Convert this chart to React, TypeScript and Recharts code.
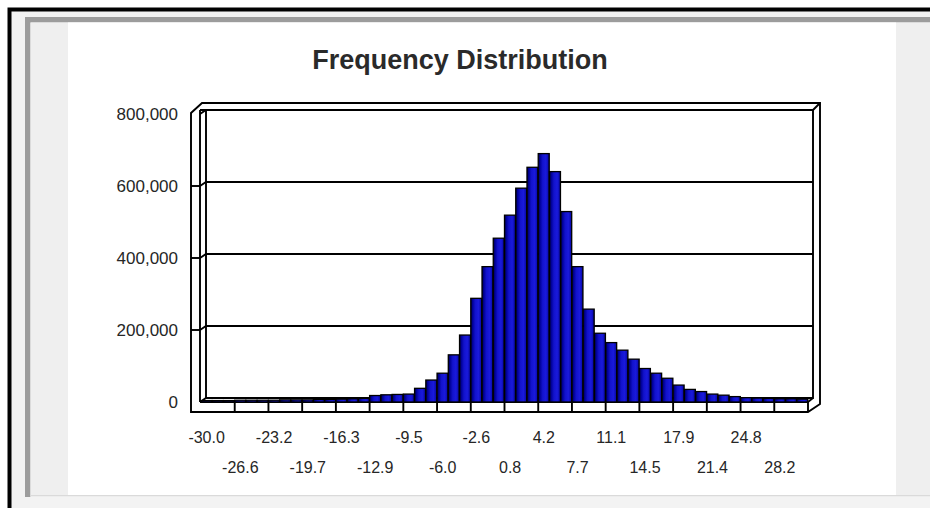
import React from 'react';
import { BarChart, Bar, XAxis, YAxis, CartesianGrid } from 'recharts';

// ---------- data ----------
const chartTitle = 'Frequency Distribution';
const tickLabels = ['-30.0', '-26.6', '-23.2', '-19.7', '-16.3', '-12.9', '-9.5', '-6.0', '-2.6', '0.8', '4.2', '7.7', '11.1', '14.5', '17.9', '21.4', '24.8', '28.2'];
const binsPerLabel = 3;
const frequency = [
  4000, 4000, 4000, 5000, 5000, 5000, 5000, 6000, 6000, 6000, 7000, 7000, 8000, 9000, 10000,
  18000, 20000, 21000, 22000,
  38000, 61000, 80000, 131000, 186000, 288000, 376000, 455000, 519000, 594000, 652000,
  690000, 640000, 529000, 376000, 258000, 191000, 165000, 144000, 119000, 93000,
  80000, 66000, 47000, 35000, 29000, 22000, 19000, 15000, 12000, 11000,
  10000, 9000, 9000, 8000,
];
const yTicks = [0, 200000, 400000, 600000, 800000];

const data = frequency.map((count, i) => ({ bin: i, count }));

// ---------- layout ----------
const W = 930;
const H = 508;
const PL = 201; // plot left (front)
const PR = 808; // plot right (front)
const PT = 114; // plot top (front)
const PB = 402; // plot bottom (front)
const DX = 5; // depth offset to back wall
const DY = -4;
const YAXIS_W = 120;
const XAXIS_H = 100;
const FONT = '"Liberation Sans", Arial, Helvetica, sans-serif';
const INK = '#262626';
const LW = 1.9;

const YTick = (props: any) => {
  const { x, y, payload } = props;
  const v = payload.value as number;
  const mark = v > yTicks[0] && v < yTicks[yTicks.length - 1];
  return (
    <g>
      {mark && <line x1={PL - 10} x2={PL - 1} y1={y} y2={y} stroke="#000" strokeWidth={LW} />}
      <text x={x} y={y} dy="0.36em" textAnchor="end" fontSize={17} fontFamily={FONT} fill={INK}>
        {v.toLocaleString('en-US')}
      </text>
    </g>
  );
};

const XTick = (props: any) => {
  const { x, y, payload } = props;
  const i = payload.value as number;
  if (i % binsPerLabel !== 0) return <g />;
  const band = (PR - PL) / frequency.length;
  const k = i / binsPerLabel;
  const left = x - band / 2;
  return (
    <g>
      {i > 0 && <line x1={left} x2={left} y1={PB} y2={PB + 10} stroke="#000" strokeWidth={LW} />}
      <text x={x} y={y + (k % 2 ? 71 : 41)} textAnchor="middle" fontSize={16} fontFamily={FONT} fill={INK}>
        {tickLabels[k]}
      </text>
    </g>
  );
};

const gridLine = (p: any) => {
  const { x1, x2, y1 } = p;
  return (
    <polyline
      key={p.key ?? `g-${y1}`}
      points={`${x1 - 1},${y1} ${x1 + DX},${y1 + DY} ${x2 + DX},${y1 + DY}`}
      fill="none"
      stroke="#000"
      strokeWidth={LW}
    />
  );
};

const BarShape = (p: any) => {
  const { x, y, width, height } = p;
  if (!height || height <= 0) return <g />;
  return <rect x={x} y={y} width={width} height={height} fill="url(#barFill)" stroke="#000" strokeWidth={1.3} />;
};

const Background = () => (
  <svg width={W} height={H} style={{ position: 'absolute', left: 0, top: 0 }}>
    <defs>
      <linearGradient id="barFill" x1="0" y1="0" x2="1" y2="0">
        <stop offset="0" stopColor="#000040" />
        <stop offset="0.16" stopColor="#000096" />
        <stop offset="0.4" stopColor="#1212cc" />
        <stop offset="0.7" stopColor="#1a1adc" />
        <stop offset="0.9" stopColor="#0c0cb4" />
        <stop offset="1" stopColor="#000068" />
      </linearGradient>
    </defs>
    <rect x={0} y={0} width={W} height={H} fill="#fff" />
    <rect x={7.5} y={7.5} width={W} height={H} fill="#000" />
    <rect x={11.5} y={11.5} width={W} height={H} fill="#f2f2f2" />
    <rect x={25} y={17} width={W} height={5.5} fill="#9c9c9c" />
    <rect x={25} y={17} width={5.5} height={480} fill="#9c9c9c" />
    <rect x={30.5} y={22.5} width={W} height={473.5} fill="#efefef" />
    <rect x={68} y={22.5} width={828} height={473.5} fill="#fff" />
    <rect x={30.5} y={495} width={W} height={1.5} fill="#dadada" />
    <rect x={30.5} y={496.5} width={W} height={12} fill="#f3f3f3" />

    <text x={460} y={69} textAnchor="middle" fontSize={27} fontWeight="bold" fontFamily={FONT} fill="#2a2a2a">
      {chartTitle}
    </text>

    {/* 3-D walls and floor */}
    <g stroke="#000" strokeWidth={LW} fill="none">
      <path
        d={`M${PL - 10},${PB + 10} L${PL - 10},${PT - 1} L${PL + 1},${PT + DY - 7} L${PR + DX + 7},${PT + DY - 7} L${PR + DX + 7},${PB + 2} L${PR},${PB + 10} Z`}
        fill="#fff"
      />
      <rect x={PL + DX} y={PT + DY} width={PR - PL} height={PB - PT} />
      <line x1={PL - 1} y1={PT + DY} x2={PL - 1} y2={PB} />
      <line x1={PL - 1} y1={PT + DY} x2={PR + DX} y2={PT + DY} />
      <line x1={PL - 1} y1={PB} x2={PR} y2={PB} />
      <line x1={PR} y1={PB} x2={PR} y2={PB + 10} />
      <line x1={PR} y1={PB} x2={PR + DX} y2={PB + DY} />
      <line x1={PR + DX} y1={PT + DY} x2={PR + DX + 7} y2={PT + DY - 7} />
    </g>
  </svg>
);

export default function App() {
  return (
    <div style={{ position: 'absolute', left: 0, top: 0, width: W, height: H, overflow: 'hidden' }}>
      <Background />
      <div style={{ position: 'absolute', left: 0, top: 0 }}>
        <BarChart
          width={W}
          height={H}
          data={data}
          margin={{ left: PL - YAXIS_W, right: W - PR, top: PT, bottom: H - PB - XAXIS_H }}
          barCategoryGap={0}
          barGap={0}
        >
          <CartesianGrid vertical={false} horizontal={gridLine} />
          <XAxis
            dataKey="bin"
            type="category"
            interval={0}
            height={XAXIS_H}
            axisLine={false}
            tickLine={false}
            tickSize={0}
            tickMargin={0}
            tick={<XTick />}
          />
          <YAxis
            type="number"
            domain={[yTicks[0], yTicks[yTicks.length - 1]]}
            ticks={yTicks}
            interval={0}
            width={YAXIS_W}
            axisLine={false}
            tickLine={false}
            tickSize={0}
            tickMargin={23}
            tick={<YTick />}
          />
          <Bar dataKey="count" isAnimationActive={false} shape={<BarShape />} />
        </BarChart>
      </div>
    </div>
  );
}
